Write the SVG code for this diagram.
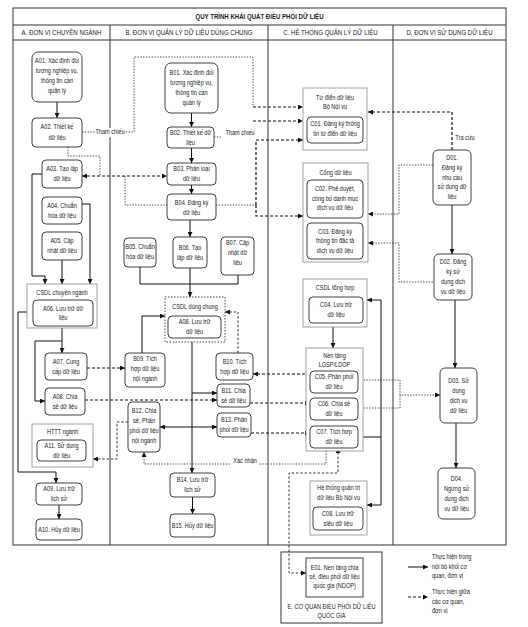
<svg xmlns="http://www.w3.org/2000/svg" width="528" height="627" viewBox="0 0 528 627">
<style>
.t{font-family:"Liberation Sans",Arial,sans-serif;font-size:7px;fill:#1a1a1a;text-anchor:middle;transform-box:fill-box;transform-origin:center;transform:scaleX(0.8)}
.ts{text-anchor:start;transform-origin:left center}
.h{font-size:7.6px}
.ti{font-size:7.6px;font-weight:bold}
.n{fill:#fff;stroke:#2a2a2a;stroke-width:0.9}
.g{fill:#fff;stroke:#8a8a8a;stroke-width:0.8}
.gd{fill:#fff;stroke:#333;stroke-width:0.9;stroke-dasharray:1.5 1.5}
.s{fill:none;stroke:#111;stroke-width:1}
.d{fill:none;stroke:#111;stroke-width:1.2;stroke-dasharray:3 2}
.d2{fill:none;stroke:#222;stroke-width:0.9;stroke-dasharray:2.5 1.8}
.o{fill:none;stroke:#222;stroke-width:0.8;stroke-dasharray:1.4 1.4}
.fr{fill:none;stroke:#333;stroke-width:1}
.bg{fill:#fff;stroke:none}
</style>
<defs>
<marker id="ah" viewBox="0 0 6 6" refX="6" refY="3" markerWidth="5" markerHeight="5" markerUnits="userSpaceOnUse" orient="auto-start-reverse"><path d="M0,0L6,3L0,6z" fill="#111"/></marker>
</defs>
<rect width="528" height="627" fill="#fff"/>
<g id="frame">
<rect class="fr" x="13" y="8" width="493" height="537"/>
<path class="fr" d="M13 25H506M13 40H506M110 25V545M268 25V545M393 25V545"/>
<text class="t ti" x="259.5" y="19.5">QUY TRÌNH KHÁI QUÁT ĐIỀU PHỐI DỮ LIỆU</text>
<text class="t h" x="61.5" y="35.5">A. ĐƠN VỊ CHUYÊN NGÀNH</text>
<text class="t h" x="189" y="35.5">B. ĐƠN VỊ QUẢN LÝ DỮ LIỆU DÙNG CHUNG</text>
<text class="t h" x="330.5" y="35.5">C. HỆ THỐNG QUẢN LÝ DỮ LIỆU</text>
<text class="t h" x="449.5" y="35.5">D. ĐƠN VỊ SỬ DỤNG DỮ LIỆU</text>
</g>
<g id="connectors">
<path class="s" d="M57 102V118" marker-end="url(#ah)"/>
<path class="s" d="M42 174H32V276H45V284" marker-end="url(#ah)"/>
<path class="s" d="M62 260V284" marker-end="url(#ah)"/>
<path class="s" d="M82 204H90V284" marker-end="url(#ah)"/>
<path class="s" d="M62 328V353" marker-end="url(#ah)"/>
<path class="s" d="M62 341H35V401H45" marker-end="url(#ah)"/>
<path class="s" d="M27 312H18V472H56V483" marker-end="url(#ah)"/>
<path class="s" d="M59 505V519" marker-end="url(#ah)"/>
<path class="s" d="M191.5 113V127" marker-end="url(#ah)"/>
<path class="s" d="M191.5 148V163" marker-end="url(#ah)"/>
<path class="s" d="M191.5 185V194" marker-end="url(#ah)"/>
<path class="s" d="M190 220V237" marker-end="url(#ah)"/>
<path class="s" d="M140 267V284H238V275"/>
<path class="s" d="M190 268V297" marker-end="url(#ah)"/>
<path class="s" d="M142 353V316H165" marker-end="url(#ah)"/>
<path class="s" d="M192 342V473" marker-end="url(#ah)"/>
<path class="s" d="M192 393H217" marker-end="url(#ah)"/>
<path class="s" d="M160 427H217" marker-start="url(#ah)" marker-end="url(#ah)"/>
<path class="s" d="M192.5 497V514" marker-end="url(#ah)"/>
<path class="s" d="M333 327V348" marker-end="url(#ah)"/>
<path class="s" d="M358 437H381V300H367" marker-end="url(#ah)"/>
<path class="s" d="M381 437V505H367" marker-end="url(#ah)"/>
<path class="s" d="M452 205V254" marker-end="url(#ah)"/>
<path class="s" d="M455 300V368" marker-end="url(#ah)"/>
<path class="s" d="M456 423V468" marker-end="url(#ah)"/>
<path class="d" d="M82 176H167" marker-start="url(#ah)" marker-end="url(#ah)"/>
<path class="o" d="M68 147V156H100V176"/>
<path class="o" d="M125 176V205H167"/>
<path class="o" d="M82 132H97"/>
<path class="o" d="M123 132H134V57H253V107"/>
<path class="d" d="M253 107H303" marker-end="url(#ah)"/>
<path class="o" d="M214 137H222"/>
<path class="d" d="M253 121H303" marker-end="url(#ah)"/>
<path class="o" d="M216 205H256"/>
<path class="d" d="M256 205V140H303" marker-end="url(#ah)"/>
<path class="d" d="M256 205V216H303" marker-end="url(#ah)"/>
<path class="d" d="M452 150V112H368" marker-end="url(#ah)"/>
<path class="o" d="M433 165H399V214H368" marker-end="url(#ah)"/>
<path class="o" d="M433 282H399V243H368" marker-end="url(#ah)"/>
<path class="d" d="M87 368H125" marker-end="url(#ah)"/>
<path class="d" d="M85 400H217" marker-end="url(#ah)"/>
<path class="d" d="M250 403H310" marker-end="url(#ah)"/>
<path class="d" d="M251 433H310" marker-end="url(#ah)"/>
<path class="d" d="M310 374H253" marker-end="url(#ah)"/>
<path class="d2" d="M238 353V312H225" marker-end="url(#ah)"/>
<path class="d2" d="M128 422H117V459H93" marker-end="url(#ah)"/>
<path class="o" d="M358 380H400V395H440" marker-end="url(#ah)"/>
<path class="o" d="M358 408H400V395"/>
<path class="o" d="M326 448V464H144V452" marker-end="url(#ah)"/>
<path class="d2" d="M338 448V473H289V573H306" marker-start="url(#ah)" marker-end="url(#ah)"/>
<rect class="bg" x="96" y="128" width="28" height="9"/>
<text class="t" x="110" y="134.5">Tham chiếu</text>
<text class="t" x="240" y="135.5">Tham chiếu</text>
<rect class="bg" x="231" y="457" width="28" height="9"/>
<text class="t" x="245" y="463">Xác nhận</text>
<text class="t" x="465" y="140">Tra cứu</text>
</g>
<g id="A01"><rect class="n" x="32" y="52" width="50" height="50" rx="6"/><text class="t"><tspan x="57" y="63.5">A01. Xác định đối</tspan><tspan x="57" y="73.5">tượng nghiệp vụ,</tspan><tspan x="57" y="83.5">thông tin cần</tspan><tspan x="57" y="93.5">quản lý</tspan></text></g>
<g id="A02"><rect class="n" x="32" y="118" width="50" height="29" rx="4"/><text class="t"><tspan x="57" y="129.5">A02. Thiết kế</tspan><tspan x="57" y="140.5">dữ liệu</tspan></text></g>
<g id="A03"><rect class="n" x="42" y="160" width="40" height="28" rx="4"/><text class="t"><tspan x="62" y="171.5">A03. Tạo lập</tspan><tspan x="62" y="181.5">dữ liệu</tspan></text></g>
<g id="A04"><rect class="n" x="42" y="197" width="40" height="27" rx="4"/><text class="t"><tspan x="62" y="208">A04. Chuẩn</tspan><tspan x="62" y="218">hóa dữ liệu</tspan></text></g>
<g id="A05"><rect class="n" x="42" y="232" width="40" height="28" rx="4"/><text class="t"><tspan x="62" y="243.5">A05. Cập</tspan><tspan x="62" y="253.5">nhật dữ liệu</tspan></text></g>
<g id="csdl-chuyen-nganh"><rect class="g" x="27" y="284" width="70" height="44"/><text class="t" x="62" y="295.5">CSDL chuyên ngành</text>
<g id="A06"><rect class="n" x="33" y="300" width="60" height="26" rx="4"/><text class="t"><tspan x="63" y="311">A06. Lưu trữ dữ</tspan><tspan x="63" y="320.5">liệu</tspan></text></g></g>
<g id="A07"><rect class="n" x="45" y="353" width="42" height="27" rx="4"/><text class="t"><tspan x="66" y="364">A07. Cung</tspan><tspan x="66" y="374">cấp dữ liệu</tspan></text></g>
<g id="A08"><rect class="n" x="45" y="388" width="40" height="27" rx="4"/><text class="t"><tspan x="65" y="399">A08. Chia</tspan><tspan x="65" y="409">sẻ dữ liệu</tspan></text></g>
<g id="httt-nganh"><rect class="g" x="32" y="424" width="61" height="43"/><text class="t" x="62.5" y="434.5">HTTT ngành</text>
<g id="A11"><rect class="n" x="37" y="440" width="49" height="21" rx="4"/><text class="t"><tspan x="61.5" y="448.5">A11. Sử dụng</tspan><tspan x="61.5" y="458.5">dữ liệu</tspan></text></g></g>
<g id="A09"><rect class="n" x="36" y="483" width="46" height="22" rx="4"/><text class="t"><tspan x="59" y="491.5">A09. Lưu trữ</tspan><tspan x="59" y="501.5">lịch sử</tspan></text></g>
<g id="A10"><rect class="n" x="36" y="519" width="46" height="21" rx="4"/><text class="t" x="59" y="532">A10. Hủy dữ liệu</text></g>
<g id="B01"><rect class="n" x="165" y="63" width="53" height="50" rx="6"/><text class="t"><tspan x="191.5" y="75">B01. Xác định đối</tspan><tspan x="191.5" y="85">tượng nghiệp vụ,</tspan><tspan x="191.5" y="95">thông tin cần</tspan><tspan x="191.5" y="105">quản lý</tspan></text></g>
<g id="B02"><rect class="n" x="167" y="127" width="47" height="21" rx="4"/><text class="t"><tspan x="190.5" y="135.5">B02. Thiết kế dữ</tspan><tspan x="190.5" y="145.5">liệu</tspan></text></g>
<g id="B03"><rect class="n" x="167" y="163" width="49" height="22" rx="4"/><text class="t"><tspan x="191.5" y="171.5">B03. Phân loại</tspan><tspan x="191.5" y="181.5">dữ liệu</tspan></text></g>
<g id="B04"><rect class="n" x="167" y="194" width="49" height="26" rx="4"/><text class="t"><tspan x="191.5" y="205">B04. Đăng ký</tspan><tspan x="191.5" y="215">dữ liệu</tspan></text></g>
<g id="B05"><rect class="n" x="124" y="238" width="32" height="29" rx="4"/><text class="t"><tspan x="140" y="249.5">B05. Chuẩn</tspan><tspan x="140" y="259.5">hóa dữ liệu</tspan></text></g>
<g id="B06"><rect class="n" x="173" y="237" width="34" height="31" rx="4"/><text class="t"><tspan x="190" y="250">B06. Tạo</tspan><tspan x="190" y="260">lập dữ liệu</tspan></text></g>
<g id="B07"><rect class="n" x="221" y="237" width="33" height="38" rx="4"/><text class="t"><tspan x="237.5" y="245.5">B07. Cập</tspan><tspan x="237.5" y="255.5">nhật dữ</tspan><tspan x="237.5" y="265.5">liệu</tspan></text></g>
<g id="csdl-dung-chung"><rect class="gd" x="165" y="297" width="60" height="45"/><text class="t" x="195" y="309">CSDL dùng chung</text>
<g id="A08-luu-tru"><rect class="n" x="168" y="316" width="53" height="22" rx="4"/><text class="t"><tspan x="194.5" y="324.5">A08. Lưu trữ</tspan><tspan x="194.5" y="334.5">dữ liệu</tspan></text></g></g>
<g id="B09"><rect class="n" x="125" y="353" width="40" height="34" rx="4"/><text class="t"><tspan x="145" y="361.5">B09. Tích</tspan><tspan x="145" y="371.5">hợp dữ liệu</tspan><tspan x="145" y="381.5">nội ngành</tspan></text></g>
<g id="B10"><rect class="n" x="216" y="353" width="37" height="27" rx="4"/><text class="t"><tspan x="234.5" y="364">B10. Tích</tspan><tspan x="234.5" y="374">hợp dữ liệu</tspan></text></g>
<g id="B11"><rect class="n" x="217" y="384" width="33" height="23" rx="4"/><text class="t"><tspan x="233.5" y="393.5">B11. Chia</tspan><tspan x="233.5" y="403.5">sẻ dữ liệu</tspan></text></g>
<g id="B12"><rect class="n" x="128" y="402" width="32" height="50" rx="4"/><text class="t"><tspan x="144" y="413.5">B12. Chia</tspan><tspan x="144" y="423.5">sẻ, Phân</tspan><tspan x="144" y="433.5">phối dữ liệu</tspan><tspan x="144" y="443.5">nội ngành</tspan></text></g>
<g id="B13"><rect class="n" x="217" y="413" width="34" height="24" rx="4"/><text class="t"><tspan x="234" y="422.5">B13. Phân</tspan><tspan x="234" y="432.5">phối dữ liệu</tspan></text></g>
<g id="B14"><rect class="n" x="170" y="473" width="45" height="24" rx="4"/><text class="t"><tspan x="192.5" y="482.5">B14. Lưu trữ</tspan><tspan x="192.5" y="492.5">lịch sử</tspan></text></g>
<g id="B15"><rect class="n" x="170" y="514" width="45" height="23" rx="4"/><text class="t" x="192.5" y="528">B15. Hủy dữ liệu</text></g>
<g id="tu-dien"><rect class="g" x="303" y="88" width="64" height="62"/><text class="t"><tspan x="335" y="100.5">Từ điển dữ liệu</tspan><tspan x="335" y="109.5">Bộ Nội vụ</tspan></text>
<g id="C01"><rect class="n" x="307" y="117" width="56" height="26" rx="4"/><text class="t"><tspan x="335" y="126.5">C01. Đăng ký thông</tspan><tspan x="335" y="136.5">tin từ điển dữ liệu</tspan></text></g></g>
<g id="cong-du-lieu"><rect class="g" x="303" y="163" width="65" height="99"/><text class="t" x="335.5" y="175.5">Cổng dữ liệu</text>
<g id="C02"><rect class="n" x="307" y="180" width="56" height="38" rx="4"/><text class="t"><tspan x="335" y="191.5">C02. Phê duyệt,</tspan><tspan x="335" y="201">công bố danh mục</tspan><tspan x="335" y="210.5">dịch vụ dữ liệu</tspan></text></g>
<g id="C03"><rect class="n" x="307" y="223" width="56" height="36" rx="4"/><text class="t"><tspan x="335" y="234">C03. Đăng ký</tspan><tspan x="335" y="243.5">thông tin đặc tả</tspan><tspan x="335" y="253">dịch vụ dữ liệu</tspan></text></g></g>
<g id="csdl-tong-hop"><rect class="g" x="303" y="279" width="64" height="48"/><text class="t" x="335" y="290.5">CSDL tổng hợp</text>
<g id="C04"><rect class="n" x="309" y="297" width="54" height="26" rx="4"/><text class="t"><tspan x="336" y="307.5">C04. Lưu trữ</tspan><tspan x="336" y="317.5">dữ liệu</tspan></text></g></g>
<g id="lgsp"><rect class="g" x="306" y="348" width="57" height="103"/><text class="t"><tspan x="334.5" y="358.5">Nền tảng</tspan><tspan x="334.5" y="367.5">LGSP/LDOP</tspan></text>
<g id="C05"><rect class="n" x="310" y="371" width="48" height="22" rx="4"/><text class="t"><tspan x="334" y="379.5">C05. Phân phối</tspan><tspan x="334" y="389.5">dữ liệu</tspan></text></g>
<g id="C06"><rect class="n" x="310" y="398" width="48" height="22" rx="4"/><text class="t"><tspan x="334" y="406.5">C06. Chia sẻ</tspan><tspan x="334" y="416.5">dữ liệu</tspan></text></g>
<g id="C07"><rect class="n" x="310" y="426" width="48" height="22" rx="4"/><text class="t"><tspan x="334" y="434.5">C07. Tích hợp</tspan><tspan x="334" y="444.5">dữ liệu</tspan></text></g></g>
<g id="he-thong-quan-tri"><rect class="g" x="310" y="481" width="57" height="54"/><text class="t"><tspan x="338.5" y="490.5">Hệ thống quản trị</tspan><tspan x="338.5" y="500.5">dữ liệu Bộ Nội vụ</tspan></text>
<g id="C08"><rect class="n" x="313" y="507" width="50" height="23" rx="4"/><text class="t"><tspan x="338" y="516.5">C08. Lưu trữ</tspan><tspan x="338" y="526.5">siêu dữ liệu</tspan></text></g></g>
<g id="D01"><rect class="n" x="433" y="150" width="38" height="55" rx="5"/><text class="t"><tspan x="452" y="160.5">D01.</tspan><tspan x="452" y="170.5">Đăng ký</tspan><tspan x="452" y="180">nhu cầu</tspan><tspan x="452" y="189.5">sử dụng dữ</tspan><tspan x="452" y="199.5">liệu</tspan></text></g>
<g id="D02"><rect class="n" x="434" y="254" width="38" height="46" rx="5"/><text class="t"><tspan x="453" y="264.5">D02. Đăng</tspan><tspan x="453" y="274.5">ký sử</tspan><tspan x="453" y="284.5">dụng dịch</tspan><tspan x="453" y="294.5">vụ dữ liệu</tspan></text></g>
<g id="D03"><rect class="n" x="440" y="368" width="37" height="55" rx="5"/><text class="t"><tspan x="458.5" y="383">D03. Sử</tspan><tspan x="458.5" y="393">dụng</tspan><tspan x="458.5" y="403">dịch vụ</tspan><tspan x="458.5" y="413">dữ liệu</tspan></text></g>
<g id="D04"><rect class="n" x="438" y="468" width="37" height="51" rx="5"/><text class="t"><tspan x="456.5" y="481">D04.</tspan><tspan x="456.5" y="491">Ngừng sử</tspan><tspan x="456.5" y="501">dụng dịch</tspan><tspan x="456.5" y="511">vụ dữ liệu</tspan></text></g>
<g id="E"><rect class="fr" x="281" y="552" width="101" height="71"/><text class="t"><tspan x="331.5" y="609.5">E. CƠ QUAN ĐIỀU PHỐI DỮ LIỆU</tspan><tspan x="331.5" y="618.5">QUỐC GIA</tspan></text>
<g id="E01"><rect class="n" x="306" y="558" width="57" height="39"/><text class="t"><tspan x="334.5" y="570.5">E01. Nền tảng chia</tspan><tspan x="334.5" y="579.5">sẻ, điều phối dữ liệu</tspan><tspan x="334.5" y="588.5">quốc gia (NDOP)</tspan></text></g></g>
<g id="legend">
<path class="s" d="M408 567H428" marker-end="url(#ah)"/>
<path class="d" d="M408 597H428" marker-end="url(#ah)"/>
<text class="t ts"><tspan x="432" y="559.5">Thực hiện trong</tspan><tspan x="432" y="569">nội bộ khối cơ</tspan><tspan x="432" y="578.5">quan, đơn vị</tspan></text>
<text class="t ts"><tspan x="432" y="594.5">Thực hiện giữa</tspan><tspan x="432" y="604">các cơ quan,</tspan><tspan x="432" y="613.5">đơn vị</tspan></text>
</g>
</svg>
